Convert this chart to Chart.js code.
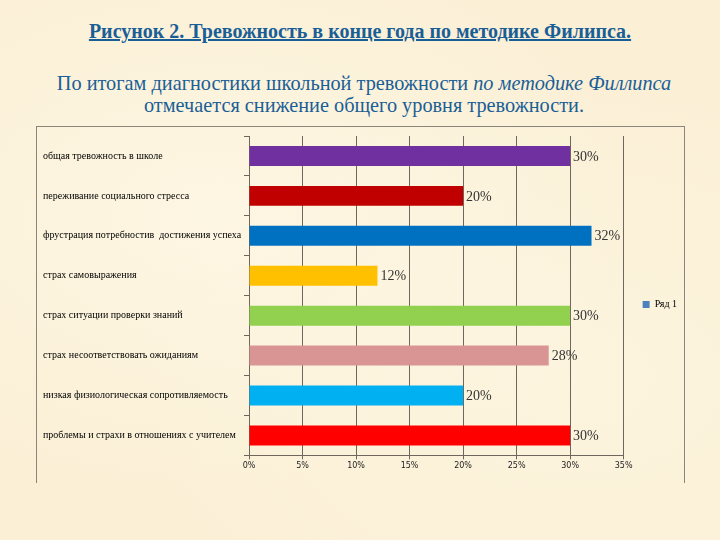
<!DOCTYPE html>
<html><head><meta charset="utf-8">
<script src="https://cdn.jsdelivr.net/npm/chart.js@4.4.0/dist/chart.umd.min.js"></script>
<style>
html,body{margin:0;padding:0;}
body{width:720px;height:540px;overflow:hidden;position:relative;background:#fbf0d6;
 background-image:radial-gradient(ellipse at 30% 40%, rgba(255,250,235,0.6), rgba(250,238,210,0) 60%),radial-gradient(ellipse at 80% 70%, rgba(255,248,230,0.5), rgba(248,236,205,0) 55%);}
#title{position:absolute;left:0;top:20px;width:720px;text-align:center;font-family:"Liberation Serif",serif;font-weight:bold;font-size:20px;color:#1a5e96;text-decoration:underline;}
#sub{position:absolute;left:4px;top:72px;width:720px;text-align:center;font-family:"Liberation Serif",serif;font-size:20.3px;line-height:22px;color:#1a5e96;}
#box{position:absolute;left:36px;top:126px;width:647px;height:356px;border:1px solid #8c857c;border-bottom:none;}
#c{position:absolute;left:0;top:0;}
</style></head>
<body>
<div id="title">Рисунок 2. Тревожность в конце года по методике Филипса.</div>
<div id="sub">По итогам диагностики школьной тревожности <i>по методике Филлипса</i><br>отмечается снижение общего уровня тревожности.</div>
<div id="box"></div>
<canvas id="c" width="720" height="540"></canvas>
<script>
const categories = [
  "общая тревожность в школе",
  "переживание социального стресса",
  "фрустрация потребностив  достижения успеха",
  "страх самовыражения",
  "страх ситуации проверки знаний",
  "страх несоответствовать ожиданиям",
  "низкая физиологическая сопротивляемость",
  "проблемы и страхи в отношениях с учителем"
];
const values = [30, 20, 32, 12, 30, 28, 20, 30];
const barColors = ["#7030a0","#c00000","#0070c0","#ffc000","#92d050","#d99594","#00b0f0","#ff0000"];
const xTicks = [0,5,10,15,20,25,30,35];
const seriesName = "Ряд 1";

const valueLabels = {
  id:'valueLabels',
  afterDatasetsDraw(chart){
    const ctx = chart.ctx;
    const meta = chart.getDatasetMeta(0);
    ctx.save();
    ctx.font = '14px "Liberation Serif", serif';
    ctx.fillStyle = '#333333';
    ctx.textAlign = 'left';
    ctx.textBaseline = 'middle';
    meta.data.forEach((bar,i)=>{
      ctx.fillText(values[i] + '%', bar.x + 3, bar.y + 1);
    });
    ctx.restore();
  }
};

new Chart(document.getElementById('c'), {
  type:'bar',
  data:{
    labels:categories,
    datasets:[{
      label:seriesName,
      data:values,
      backgroundColor:barColors,
      borderColor:barColors,
      borderWidth:0,
      barPercentage:0.5,
      categoryPercentage:1
    }]
  },
  options:{
    indexAxis:'y',
    responsive:false,
    animation:false,
    layout:{padding:{left:43,top:136,right:33,bottom:67}},
    plugins:{
      legend:{
        position:'right',
        labels:{
          boxWidth:7,boxHeight:7,padding:19,color:'#222',
          font:{family:'"Liberation Serif", serif',size:10},
          generateLabels(chart){
            return [{text:seriesName,fillStyle:'#4f81bd',strokeStyle:'#4f81bd',lineWidth:0,hidden:false,datasetIndex:0}];
          }
        }
      },
      tooltip:{enabled:false}
    },
    scales:{
      x:{
        min:0,max:35,
        afterBuildTicks(scale){ scale.ticks = xTicks.map(v=>({value:v})); },
        ticks:{
          callback:(v)=>v+'%',
          color:'#222',
          font:{family:'"DejaVu Sans", sans-serif',size:8},
          padding:2
        },
        grid:{color:'#6f675d',lineWidth:1,tickLength:4},
        border:{color:'#6f675d'}
      },
      y:{
        afterFit(scale){ scale.width = 206; },
        ticks:{
          crossAlign:'far',
          color:'#000',
          font:{family:'"Liberation Serif", serif',size:10},
          padding:4
        },
        grid:{drawOnChartArea:false,color:'#6f675d',tickLength:5},
        border:{color:'#6f675d'}
      }
    }
  },
  plugins:[valueLabels]
});
</script>
</body></html>
